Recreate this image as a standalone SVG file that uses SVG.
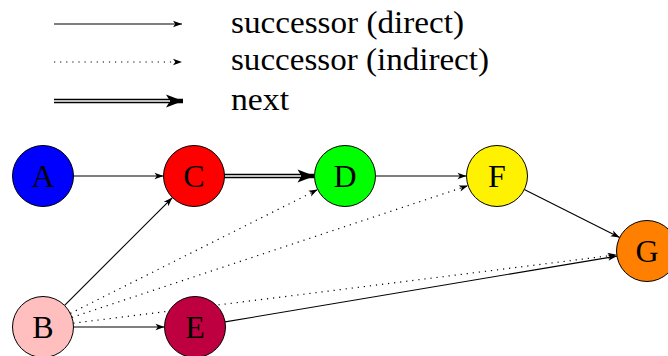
<svg xmlns="http://www.w3.org/2000/svg" width="668" height="356" viewBox="0 0 668 356">
<style>
.edge{fill:none;stroke:#000;stroke-width:1.1}
.dot{fill:none;stroke:#000;stroke-width:1.2;stroke-dasharray:1.2 4.9}
.dbl{fill:none;stroke:#000;stroke-width:4.4}
.dblin{fill:none;stroke:#fff;stroke-width:1.7}
.node{stroke:#000;stroke-width:1}
.lbl{font-family:"Liberation Serif","DejaVu Serif",serif;font-size:32px;fill:#000;text-anchor:middle}
.leg{font-family:"Liberation Serif","DejaVu Serif",serif;font-size:31px;fill:#000}
</style>
<defs>
<marker id="arr" markerUnits="userSpaceOnUse" viewBox="-1 -5 12 10" markerWidth="12" markerHeight="10" refX="9" refY="0" orient="auto">
<path d="M0,-3.2 L9,0 L0,3.2 L2.3,0 Z" fill="#000"/>
</marker>
<marker id="big" markerUnits="userSpaceOnUse" viewBox="-1 -8 20 16" markerWidth="20" markerHeight="16" refX="17" refY="0" orient="auto">
<path d="M0,-6.5 L17,0 L0,6.5 L4,0 Z" fill="#000"/>
</marker>
</defs>
<g id="legend">
<line class="edge" x1="54" y1="24" x2="182" y2="24" marker-end="url(#arr)"/>
<line class="dot" x1="54" y1="62" x2="182" y2="62" marker-end="url(#arr)"/>
<line class="dbl" x1="54" y1="101" x2="183" y2="101" marker-end="url(#big)"/>
<line class="dblin" x1="54" y1="101" x2="170" y2="101"/>
<text class="leg" x="231" y="33" textLength="233" lengthAdjust="spacingAndGlyphs">successor (direct)</text>
<text class="leg" x="231" y="70" textLength="258" lengthAdjust="spacingAndGlyphs">successor (indirect)</text>
<text class="leg" x="231" y="110" textLength="58" lengthAdjust="spacingAndGlyphs">next</text>
</g>
<g id="connectors">
<line class="edge" x1="73.5" y1="176" x2="163.5" y2="176" marker-end="url(#arr)"/>
<line class="dbl" x1="224.5" y1="176" x2="314.5" y2="176" marker-end="url(#big)"/>
<line class="dblin" x1="224.5" y1="176" x2="301" y2="176"/>
<line class="edge" x1="375.5" y1="176" x2="466.5" y2="176" marker-end="url(#arr)"/>
<line class="edge" x1="524.3" y1="189.6" x2="619.7" y2="237.4" marker-end="url(#arr)"/>
<line class="edge" x1="64.6" y1="305.4" x2="172.4" y2="197.6" marker-end="url(#arr)"/>
<line class="edge" x1="73.5" y1="327" x2="164.5" y2="327" marker-end="url(#arr)"/>
<line class="edge" x1="225.1" y1="321.9" x2="616.9" y2="256.1" marker-end="url(#arr)"/>
<line class="dot" x1="70.3" y1="313.4" x2="317.7" y2="189.6" marker-end="url(#arr)"/>
<line class="dot" x1="71.9" y1="317.4" x2="468.1" y2="185.6" marker-end="url(#arr)"/>
<line class="dot" x1="73.3" y1="323.2" x2="616.7" y2="254.8" marker-end="url(#arr)"/>
</g>
<g id="A"><circle class="node" cx="43" cy="176" r="30.5" fill="#0000FF"/><text class="lbl" x="43" y="187">A</text></g>
<g id="C"><circle class="node" cx="194" cy="176" r="30.5" fill="#FF0000"/><text class="lbl" x="194" y="187">C</text></g>
<g id="D"><circle class="node" cx="345" cy="176" r="30.5" fill="#00FF00"/><text class="lbl" x="345" y="187">D</text></g>
<g id="F"><circle class="node" cx="497" cy="176" r="30.5" fill="#FFF200"/><text class="lbl" x="497" y="187">F</text></g>
<g id="B"><circle class="node" cx="43" cy="327" r="30.5" fill="#FFBFBF"/><text class="lbl" x="43" y="338">B</text></g>
<g id="E"><circle class="node" cx="195" cy="327" r="30.5" fill="#BF0040"/><text class="lbl" x="195" y="338">E</text></g>
<g id="G"><circle class="node" cx="647" cy="251" r="30.5" fill="#FF8000"/><text class="lbl" x="647" y="262">G</text></g>
</svg>
